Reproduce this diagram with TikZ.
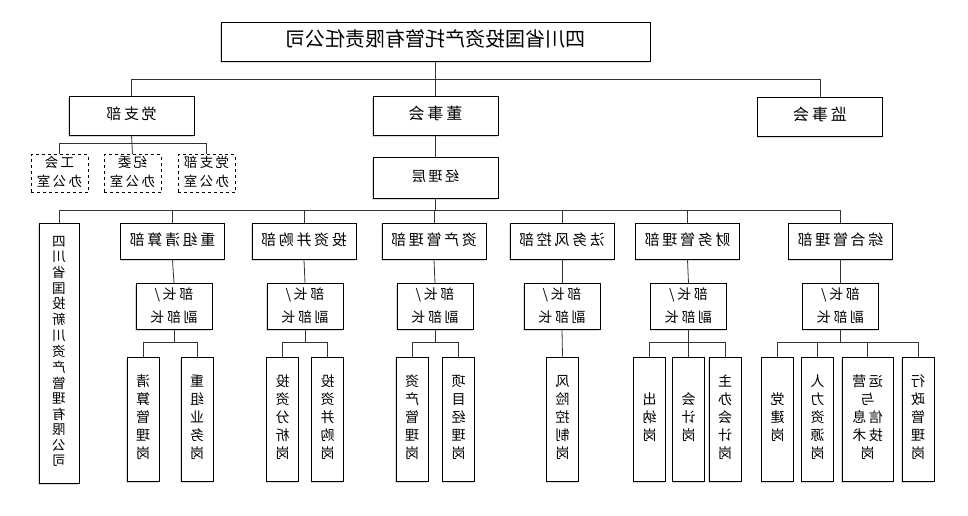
\documentclass[tikz,border=0pt]{standalone}
\usepackage{fontspec}
\setmainfont{Noto Sans CJK SC}
\newfontfamily\cjkwide[LetterSpace=18]{Noto Sans CJK SC}
\usetikzlibrary{shadows,backgrounds}

% 镜像文字
\newcommand{\flip}[1]{\reflectbox{\begin{tabular}{@{}c@{}}#1\end{tabular}}}

\tikzset{
  box/.style={draw, line width=0.9pt, fill=white, inner sep=0pt, align=center,
    drop shadow={shadow xshift=-0.6pt, shadow yshift=-1.6pt, opacity=0.3}},
  topbox/.style={box, minimum width=125pt, minimum height=39pt, font=\cjkwide\fontsize{16}{19}\selectfont},
  office/.style={draw, dashed, line width=0.8pt, fill=white, inner sep=0pt, align=center,
    minimum width=57pt, minimum height=37pt, font=\cjkwide\fontsize{13.5}{19}\selectfont},
  dept/.style={box, minimum width=104pt, minimum height=36pt, font=\cjkwide\fontsize{15}{18}\selectfont},
  head/.style={box, minimum width=76pt, minimum height=45pt, font=\cjkwide\fontsize{14}{23}\selectfont},
  post/.style={box, minimum width=32pt, minimum height=124pt, font=\fontsize{14}{18}\selectfont},
  link/.style={line width=0.8pt, draw=black!80}
}

\begin{document}
\begin{tikzpicture}[x=1pt, y=-1pt]
\useasboundingbox (0,0) rectangle (968,516);

% 公司与上层机构
\node[box, minimum width=429pt, minimum height=39pt, font=\fontsize{20}{24}\selectfont] (company) at (435.5,41.5) {\flip{四川省国投资产托管有限责任公司}};
\node[topbox, font=\cjkwide\fontsize{15}{18}\selectfont] (party) at (131.5,115.5) {\flip{党支部}};
\node[topbox] (board) at (435.5,116) {\flip{董事会}};
\node[topbox] (super) at (820,116.5) {\flip{监事会}};
\node[topbox, minimum height=41pt, font=\cjkwide\fontsize{14}{18}\selectfont] (mgr) at (435.5,178) {\flip{经理层}};

% 党支部下属办公室
\node[office] (off1) at (59.5,173.5) {\flip{工会\\办公室}};
\node[office] (off2) at (132.5,173.5) {\flip{纪委\\办公室}};
\node[office] (off3) at (206.5,173.5) {\flip{党支部\\办公室}};

% 子公司与各部门
\node[box, minimum width=40pt, minimum height=260pt, font=\fontsize{13.5}{15.3}\selectfont] (sub) at (59,353)
  {\flip{四\\川\\省\\国\\投\\新\\川\\资\\产\\管\\理\\有\\限\\公\\司}};
\node[dept] (d1) at (172.5,241.5) {\flip{重组清算部}};
\node[dept] (d2) at (304,241.5) {\flip{投资并购部}};
\node[dept] (d3) at (434,241.5) {\flip{资产管理部}};
\node[dept] (d4) at (562,241.5) {\flip{法务风控部}};
\node[dept] (d5) at (687.5,241.5) {\flip{财务管理部}};
\node[dept] (d6) at (840.5,241.5) {\flip{综合管理部}};

\foreach \i/\x in {1/174, 2/305, 3/435, 4/562, 5/688.5, 6/840.5}
  \node[head] (h\i) at (\x,306.5) {\flip{部长/\\副部长}};

% 岗位
\node[post] (p11) at (143,419) {\flip{清\\算\\管\\理\\岗}};
\node[post] (p12) at (197,419) {\flip{重\\组\\业\\务\\岗}};
\node[post] (p21) at (282.5,419) {\flip{投\\资\\分\\析\\岗}};
\node[post] (p22) at (327.5,419) {\flip{投\\资\\并\\购\\岗}};
\node[post] (p31) at (412,419) {\flip{资\\产\\管\\理\\岗}};
\node[post] (p32) at (458.5,419) {\flip{项\\目\\经\\理\\岗}};
\node[post] (p41) at (562.5,419) {\flip{风\\险\\控\\制\\岗}};
\node[post] (p51) at (649.5,419) {\flip{出\\纳\\岗}};
\node[post] (p52) at (688.5,419) {\flip{会\\计\\岗}};
\node[post] (p53) at (725,419) {\flip{主\\办\\会\\计\\岗}};
\node[post] (p61) at (777.5,419) {\flip{党\\建\\岗}};
\node[post] (p62) at (817.5,419) {\flip{人\\力\\资\\源\\岗}};
\node[post, minimum width=51pt, font=\cjkwide\fontsize{14}{18}\selectfont] (p63) at (867.5,419) {\flip{运营\\与\\信息\\技术\\岗}};
\node[post] (p64) at (918,419) {\flip{行\\政\\管\\理\\岗}};

% 连线
\coordinate (topbus) at (0,79);
\coordinate (offbus) at (0,143);
\coordinate (deptbus) at (0,210);
\coordinate (postbus) at (0,342);
\begin{scope}[on background layer]
  \draw[link] (company.south) -- (board.north);
  \draw[link] (party.north) |- (super.north |- topbus) -- (super.north);
  \draw[link] (party.south) -- (off2.north);
  \draw[link] (off1.north) |- (off3.north |- offbus) -- (off3.north);
  \draw[link] (board.south) -- (mgr.north);
  \draw[link] (mgr.south) -- (mgr.south |- deptbus);
  \draw[link] (sub.north) |- (d6.north |- deptbus) -- (d6.north);
  \foreach \i in {1,...,5}
    \draw[link] (d\i.north) -- (d\i.north |- deptbus);
  \foreach \i in {1,...,6}
    \draw[link] (d\i.south) -- (h\i.north);
  \foreach \i/\a/\b in {1/p11/p12, 2/p21/p22, 3/p31/p32, 5/p51/p53, 6/p61/p64} {
    \draw[link] (h\i.south) -- (h\i.south |- postbus);
    \draw[link] (\a.north) |- (\b.north |- postbus) -- (\b.north);
  }
  \draw[link] (h4.south) -- (p41.north);
  \draw[link] (p52.north) -- (p52.north |- postbus);
  \draw[link] (p62.north) -- (p62.north |- postbus);
  \draw[link] (p63.north) -- (p63.north |- postbus);
\end{scope}
\end{tikzpicture}
\end{document}
